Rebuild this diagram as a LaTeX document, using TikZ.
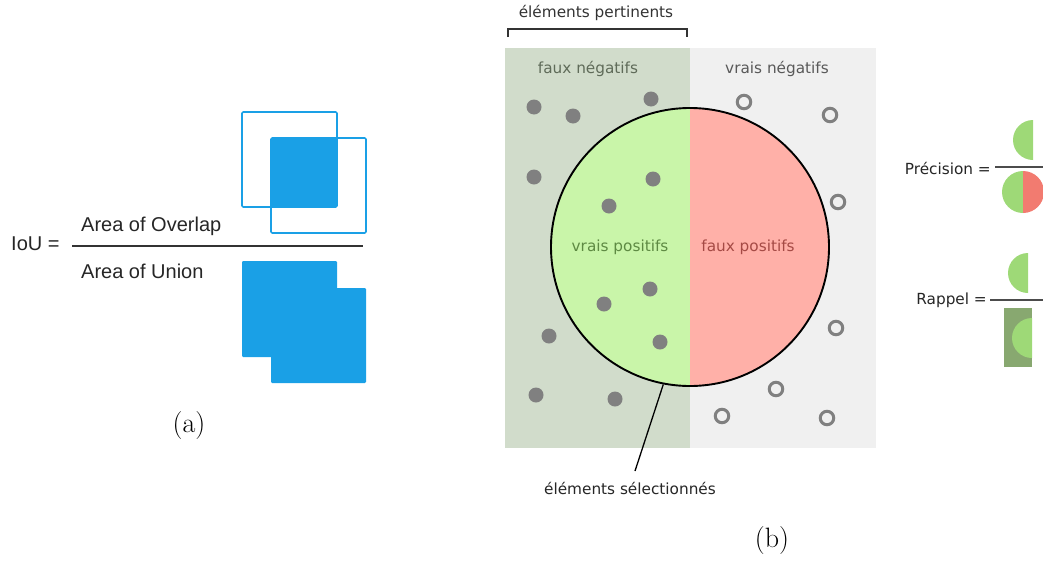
\documentclass[tikz,border=0pt]{standalone}
\usepackage{fontspec}
\newfontfamily\helv{Liberation Sans}
\newfontfamily\dvs{DejaVu Sans}
\definecolor{iouBlue}{HTML}{1AA0E6}
\definecolor{pertGreen}{HTML}{D1DCCB}
\definecolor{negGray}{HTML}{F0F0F0}
\definecolor{tpGreen}{HTML}{C9F5A9}
\definecolor{fpRed}{HTML}{FFB0A8}
\definecolor{dotGray}{HTML}{808080}
\definecolor{precGreen}{HTML}{9ED977}
\definecolor{precRed}{HTML}{F27B70}
\definecolor{recRect}{HTML}{88A870}
\definecolor{tpText}{HTML}{5E8A43}
\definecolor{fpText}{HTML}{A54A45}
\definecolor{fnText}{HTML}{5F6B59}
\begin{document}
\begin{tikzpicture}[x=1pt,y=-1pt,
  ioutext/.style={font=\helv\fontsize{20}{23}\selectfont, text=black!85, inner sep=0pt},
  btext/.style={font=\dvs\fontsize{15.3}{18}\selectfont, inner sep=0pt},
  sublabel/.style={font=\fontsize{28}{32}\selectfont, inner sep=0pt},
  fullDot/.style={circle, fill=dotGray, minimum size=15pt, inner sep=0pt},
  ringDot/.style={circle, draw=dotGray, line width=3pt, minimum size=13.5pt, inner sep=0pt},
  fracline/.style={draw=black!70, line width=1.2pt}]
\useasboundingbox (0,0) rectangle (1043,560);

% ---------------- (a) IoU ----------------
\draw[iouBlue, line width=1.6pt, rounded corners=1.2pt] (242,112) rectangle (337,207);
\draw[iouBlue, line width=1.6pt, rounded corners=1.2pt] (271,138) rectangle (366,233);
\fill[iouBlue, rounded corners=1.2pt] (271,138) rectangle (337,207);
\fill[iouBlue, rounded corners=1.2pt] (242,261) rectangle (337,357);
\fill[iouBlue, rounded corners=1.2pt] (271,288) rectangle (366,383);

\node[ioutext, anchor=west] (iou) at (11,244) {IoU =};
\node[ioutext, anchor=west] (overlap) at (81,226) {Area of Overlap};
\node[ioutext, anchor=west] (union) at (81,271) {Area of Union};
\draw[draw=black!80, line width=1.5pt] (72,246) -- (363,246);
\node[sublabel] (la) at (189,426) {(a)};

% ---------------- (b) ----------------
\fill[pertGreen] (505,48) rectangle (690,448);
\fill[negGray] (690,48) rectangle (876,448);

\begin{scope}
  \clip (540,90) rectangle (690,400);
  \fill[tpGreen] (690,247) circle[radius=139];
\end{scope}
\begin{scope}
  \clip (690,90) rectangle (840,400);
  \fill[fpRed] (690,247) circle[radius=139];
\end{scope}
\node[circle, draw=black, line width=1.9pt, minimum size=278pt, inner sep=0pt] (sel) at (690,247) {};

\node[btext, text=tpText] (tp) at (620,247) {vrais positifs};
\node[btext, text=fpText] (fp) at (748,247) {faux positifs};
\node[btext, text=fnText] (fn) at (588,69) {faux négatifs};
\node[btext, text=black!65] (tn) at (777,69) {vrais négatifs};

\node[btext, text=black!80] (pert) at (596,13) {éléments pertinents};
\draw[black!80, line width=1.5pt] (508,37) -- (508,29) -- (687,29) -- (687,37);

\foreach \p [count=\i] in {(534,107),(573,116),(651,99),(534,177),(653,179),(609,206),
  (650,289),(604,304),(549,336),(660,342),(536,395),(615,399)}
  \node[fullDot] (fd\i) at \p {};
\foreach \p [count=\i] in {(744,102),(830,115),(838,202),(836,328),(776,389),(722,416),(827,418)}
  \node[ringDot] (rd\i) at \p {};

\node[btext, text=black!85] (seltext) at (630,488) {éléments sélectionnés};
\coordinate (selTip) at (635,471);
\draw[black, line width=1.3pt] (sel.259.5) -- (selTip);

\node[sublabel] (lb) at (772,541) {(b)};

% ---------------- Précision / Rappel ----------------
\node[btext, text=black!85, anchor=east] (prec) at (991,168) {Précision =};
\draw[fracline] (995,167) -- (1043,167);
\fill[precGreen] (1033,120) arc[start angle=270, end angle=90, radius=20] -- cycle;
\fill[precGreen] (1023,171) arc[start angle=270, end angle=90, radius=21] -- cycle;
\fill[precRed] (1023,171) arc[start angle=-90, end angle=90, radius=21] -- cycle;

\node[btext, text=black!85, anchor=east] (rap) at (987,300) {Rappel =};
\draw[fracline] (990,300) -- (1043,300);
\fill[precGreen] (1028,253) arc[start angle=270, end angle=90, radius=20] -- cycle;
\fill[recRect] (1004,308) rectangle (1032,367);
\fill[precGreen] (1032,318) arc[start angle=270, end angle=90, radius=20] -- cycle;
\end{tikzpicture}
\end{document}
